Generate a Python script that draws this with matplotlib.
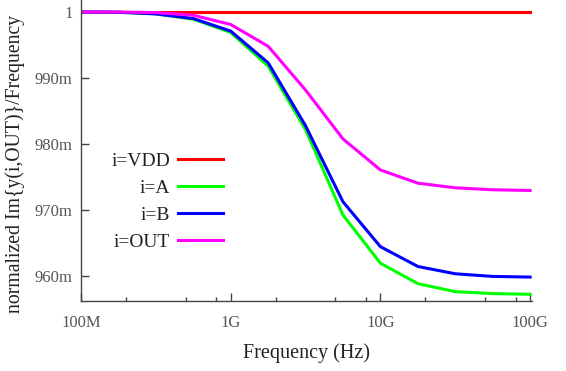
import numpy as np
import matplotlib.pyplot as plt
from matplotlib.ticker import FixedLocator, FuncFormatter

plt.rcParams['font.family'] = ['Liberation Serif', 'DejaVu Serif']

# frequency points (Hz), quarter-decade steps
freq = [1e8, 1.78e8, 3.16e8, 5.62e8, 1e9, 1.78e9, 3.16e9, 5.62e9,
        1e10, 1.78e10, 3.16e10, 5.62e10, 1e11]

y_vdd = [1.0, 1.0, 1.0, 1.0, 1.0, 1.0, 1.0, 1.0, 1.0, 1.0, 1.0, 1.0, 1.0]
y_a = [1.0, 0.99995, 0.9997, 0.9989, 0.9969, 0.9918, 0.9822, 0.9693,
       0.9620, 0.9589, 0.9577, 0.9574, 0.9573]
y_b = [1.0, 0.99995, 0.9997, 0.9990, 0.9971, 0.9923, 0.9828, 0.9713,
       0.9645, 0.9615, 0.9604, 0.9600, 0.9599]
y_out = [1.0, 0.99998, 0.9999, 0.9995, 0.9981, 0.9948, 0.9882, 0.9808,
         0.9761, 0.9741, 0.9734, 0.9731, 0.9730]

labels = ['i=VDD', 'i=A', 'i=B', 'i=OUT']
colors = ['#ff0000', '#00ff00', '#0000ff', '#ff00ff']

xticks = [1e8, 1e9, 1e10, 1e11]
xticklabels = ['100M', '1G', '10G', '100G']
yticks = [0.96, 0.97, 0.98, 0.99, 1.0]

fig = plt.figure(figsize=(5.66, 3.71), dpi=100)
ax = fig.add_axes([0.143, 0.189, 0.797, 0.811])

for y, lab, c in zip([y_vdd, y_a, y_b, y_out], labels, colors):
    ax.plot(freq, y, color=c, linewidth=2.2, label=lab)

ax.set_xscale('log')
ax.set_xlim(1e8, 1.03e11)
ax.set_ylim(0.9563, 1.0018)

ax.xaxis.set_major_locator(FixedLocator(xticks))
ax.set_xticklabels(xticklabels)
minor = [m * d for d in [1e8, 1e9, 1e10] for m in (2, 5, 8)]
ax.xaxis.set_minor_locator(FixedLocator(minor))
ax.xaxis.set_minor_formatter(FuncFormatter(lambda v, p: ''))

ax.yaxis.set_major_locator(FixedLocator(yticks))
ax.yaxis.set_major_formatter(FuncFormatter(
    lambda v, p: '1' if abs(v - 1) < 1e-9 else f'{v * 1000:.0f}m'))

for s in ['top', 'right']:
    ax.spines[s].set_visible(False)
for s in ['left', 'bottom']:
    ax.spines[s].set_color('#444444')
    ax.spines[s].set_linewidth(1.0)

ax.tick_params(which='major', direction='in', length=6, width=1,
               color='#444444', labelsize=12, labelcolor='#555555', pad=10)
ax.tick_params(which='minor', direction='in', length=3, width=1,
               color='#444444')
ax.tick_params(axis='y', pad=6)

ax.set_xlabel('Frequency (Hz)', fontsize=14.5, color='#222222')
ax.xaxis.set_label_coords(0.5, -0.142)
ax.set_ylabel('normalized Im{y(i,OUT)}/Frequency', fontsize=14.2,
              color='#222222')
ax.yaxis.set_label_coords(-0.124, 0.455)

leg = ax.legend(loc='upper left', bbox_to_anchor=(0.046, 0.525), frameon=False,
                markerfirst=False, fontsize=14, handlelength=2.3,
                handletextpad=0.4, labelspacing=0.48, borderpad=0)
for t in leg.get_texts():
    t.set_ha('right')
    t.set_color('#222222')

fig.savefig('out.png', dpi=100)
